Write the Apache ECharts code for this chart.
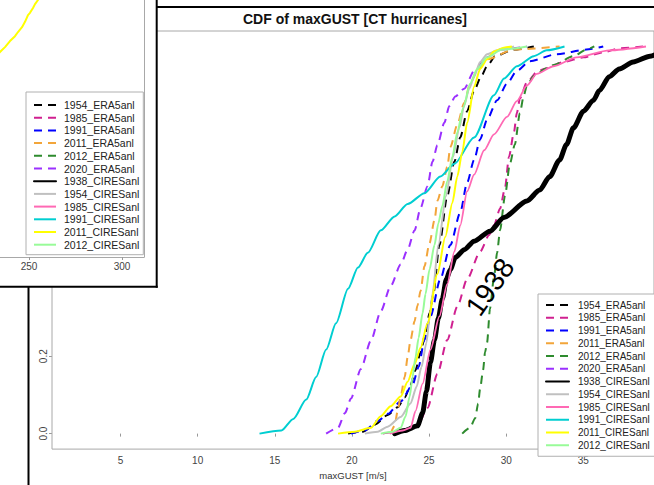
<!DOCTYPE html>
<html><head><meta charset="utf-8">
<script src="https://cdn.jsdelivr.net/npm/echarts@6/dist/echarts.min.js"></script>
<style>html,body{margin:0;padding:0;background:#fff}#c{width:654px;height:485px}</style>
</head><body><div id="c"></div>
<script>
const seriesNames = ['1954_ERA5anl','1985_ERA5anl','1991_ERA5anl','2011_ERA5anl','2012_ERA5anl','2020_ERA5anl','1938_CIRESanl','1954_CIRESanl','1985_CIRESanl','1991_CIRESanl','2011_CIRESanl','2012_CIRESanl'];
const xTicks = [5,10,15,20,25,30,35];
const yTicks = [0,0.2,0.4,0.6,0.8,1.0];
const insetXTicks = [250,300];

const era1954 = [[19.75,0],[20.71,0.005],[21.48,0.023],[22.32,0.048],[22.96,0.068],[23.42,0.093],[23.80,0.126],[24.12,0.164],[24.45,0.210],[24.77,0.260],[25.03,0.311],[25.28,0.361],[25.67,0.487],[26.18,0.614],[26.64,0.702],[27.02,0.765],[27.47,0.833],[27.92,0.886],[28.37,0.922],[28.76,0.949],[29.28,0.975],[30.50,0.992],[31.79,1.0]];
const era1985 = [[22.00,0],[22.96,0.005],[23.80,0.013],[24.25,0.020],[24.90,0.066],[25.54,0.154],[26.18,0.242],[26.83,0.328],[27.47,0.399],[28.31,0.470],[28.89,0.513],[29.21,0.538],[29.60,0.581],[29.92,0.634],[30.18,0.715],[30.50,0.778],[30.69,0.828],[30.89,0.866],[31.34,0.907],[31.98,0.934],[32.43,0.942],[33.72,0.960],[35.01,0.972],[36.29,0.985],[37.32,0.995],[38.87,1.0]];
const era1991 = [[19.94,0],[20.84,0.008],[21.68,0.033],[22.32,0.051],[23.16,0.083],[23.93,0.126],[24.32,0.172],[24.70,0.242],[25.09,0.303],[25.73,0.399],[26.38,0.487],[27.02,0.571],[27.47,0.649],[27.92,0.707],[28.31,0.760],[28.76,0.811],[29.41,0.861],[30.05,0.904],[30.69,0.937],[31.53,0.962],[33.27,0.980],[35.20,0.992],[36.29,1.0]];
const era2011 = [[22.51,0],[22.77,0.020],[22.96,0.058],[23.16,0.096],[23.42,0.146],[23.61,0.197],[23.80,0.242],[24.06,0.290],[24.25,0.331],[24.45,0.369],[24.70,0.432],[25.03,0.492],[25.35,0.551],[25.54,0.601],[25.86,0.639],[26.18,0.689],[26.38,0.740],[26.83,0.798],[27.28,0.854],[27.66,0.904],[28.12,0.937],[28.76,0.967],[30.50,0.992],[33.46,1.0]];
const era2012 = [[27.15,0],[27.66,0.015],[27.99,0.040],[28.18,0.078],[28.31,0.116],[28.50,0.164],[28.63,0.210],[28.76,0.235],[28.95,0.323],[29.21,0.404],[29.41,0.467],[29.60,0.525],[29.92,0.614],[30.24,0.697],[30.56,0.747],[30.89,0.828],[31.14,0.874],[31.34,0.899],[31.79,0.924],[32.62,0.944],[33.07,0.952],[34.36,0.975],[35.20,0.992],[35.71,1.0]];
const era2020 = [[18.33,0],[19.10,0.015],[19.55,0.053],[19.94,0.091],[20.58,0.167],[21.23,0.240],[21.87,0.316],[22.51,0.381],[23.16,0.437],[23.61,0.475],[24.06,0.525],[24.45,0.583],[24.90,0.639],[25.22,0.702],[25.54,0.745],[25.99,0.803],[26.31,0.846],[26.70,0.871],[27.28,0.891],[27.92,0.937],[28.76,0.972],[29.60,0.992],[31.34,1.0]];
const cires1938 = [[22.77,0],[23.42,0.008],[24.25,0.020],[24.58,0.053],[24.83,0.109],[25.09,0.184],[25.35,0.242],[25.60,0.298],[25.86,0.348],[26.12,0.399],[26.38,0.424],[26.70,0.455],[27.28,0.475],[27.92,0.497],[28.95,0.523],[29.85,0.558],[31.34,0.601],[32.17,0.629],[32.82,0.664],[33.46,0.707],[33.91,0.747],[34.36,0.790],[35.01,0.833],[35.65,0.861],[36.04,0.886],[36.68,0.922],[37.33,0.942],[38.23,0.960],[39.32,0.975],[39.84,0.982]];
const cires1954 = [[20.84,0],[21.68,0.005],[22.32,0.018],[23.16,0.043],[23.80,0.078],[24.19,0.121],[24.51,0.172],[24.83,0.235],[25.03,0.298],[25.22,0.361],[25.60,0.487],[26.10,0.614],[26.55,0.715],[26.96,0.790],[27.28,0.848],[27.60,0.891],[27.92,0.922],[28.31,0.960],[28.76,0.980],[29.41,0.990],[30.50,1.0]];
const cires1985 = [[22.45,0],[23.29,0.008],[23.80,0.015],[24.12,0.058],[24.58,0.129],[25.09,0.217],[25.67,0.303],[26.18,0.386],[26.64,0.470],[27.02,0.538],[27.47,0.626],[27.92,0.669],[28.57,0.732],[29.21,0.773],[30.05,0.818],[30.69,0.859],[31.34,0.899],[31.98,0.929],[33.07,0.949],[34.56,0.972],[36.68,0.990],[39.06,1.0]];
const cires1991 = [[14.01,0],[15.43,0.008],[16.20,0.038],[17.04,0.088],[17.68,0.146],[18.33,0.217],[18.97,0.285],[19.75,0.374],[20.39,0.429],[21.03,0.467],[21.87,0.525],[22.77,0.561],[23.61,0.593],[24.70,0.621],[25.73,0.664],[26.64,0.697],[27.92,0.765],[29.21,0.874],[29.86,0.917],[30.69,0.949],[31.79,0.975],[32.62,0.990],[33.78,1.0]];
const cires2011 = [[19.10,0],[20.20,0.005],[21.23,0.015],[21.87,0.045],[22.51,0.071],[23.16,0.096],[23.61,0.134],[24.06,0.179],[24.45,0.222],[24.90,0.285],[25.54,0.412],[26.05,0.508],[26.51,0.596],[26.83,0.664],[27.15,0.727],[27.47,0.803],[27.92,0.896],[28.31,0.942],[28.76,0.967],[29.21,0.987],[29.85,0.997],[30.37,1.0]];
const cires2012 = [[21.87,0],[22.64,0.005],[23.16,0.015],[23.48,0.045],[23.74,0.096],[23.93,0.146],[24.12,0.197],[24.32,0.247],[24.58,0.311],[24.77,0.361],[25.03,0.424],[25.35,0.487],[25.60,0.543],[25.86,0.588],[26.18,0.652],[26.51,0.715],[26.83,0.778],[27.21,0.841],[27.66,0.904],[28.12,0.942],[28.76,0.972],[29.73,0.992],[31.34,1.0]];
const insetCires2011 = [[231.72,0.491],[234.41,0.504],[237.10,0.517],[239.78,0.533],[242.47,0.546],[244.09,0.557],[246.24,0.570],[247.85,0.584],[249.46,0.602],[250.54,0.608],[252.15,0.621],[253.23,0.631],[254.84,0.642],[256.45,0.655]];

const seriesData = [era1954, era1985, era1991, era2011, era2012, era2020, cires1938, cires1954, cires1985, cires1991, cires2011, cires2012];

const FONT = '"Liberation Sans", Arial, Helvetica, sans-serif';
const DASH = [8, 6];
const styles = [
  {color:'#000000', width:2, type:DASH},
  {color:'#D02090', width:2, type:DASH},
  {color:'#0000FF', width:2, type:DASH},
  {color:'#F2A53A', width:2, type:DASH},
  {color:'#2E8B2E', width:2, type:DASH},
  {color:'#9B30FF', width:2, type:DASH},
  {color:'#000000', width:5, type:'solid', cap:'round'},
  {color:'#C0C0C0', width:2, type:'solid'},
  {color:'#FF69B4', width:1.8, type:'solid'},
  {color:'#00CED1', width:2, type:'solid'},
  {color:'#FFFF00', width:2, type:'solid'},
  {color:'#98FB98', width:2, type:'solid'}
];

const mainSeries = seriesNames.map((name, i) => ({
  name, type:'line', xAxisIndex:0, yAxisIndex:0, data: seriesData[i],
  symbol:'none', showSymbol:false, smooth:0.25, smoothMonotone:'x', z: 2,
  color: styles[i].color,
  lineStyle: Object.assign({join:'round'}, styles[i]),
  emphasis:{disabled:true}
}));

const insetSeries = {
  name:'2011_CIRESanl', type:'line', xAxisIndex:1, yAxisIndex:1, data: insetCires2011,
  symbol:'none', showSymbol:false, z: 20, color: styles[10].color,
  lineStyle: Object.assign({}, styles[10]), emphasis:{disabled:true}
};

const chart = echarts.init(document.getElementById('c'), null, {renderer:'svg', width:654, height:485});

const legendCommon = {
  orient:'vertical', data: seriesNames,
  itemWidth: 23, itemHeight: 12, itemGap: 0.75,
  itemStyle:{opacity:0, borderWidth:0},
  backgroundColor:'#ffffff', borderColor:'#b0b0b0', borderWidth:1, borderRadius:0,
  selectedMode:false
};

chart.setOption({
  animation:false,
  backgroundColor:'#ffffff',
  title:{text:'CDF of maxGUST [CT hurricanes]', left:355, top:12, textAlign:'center', padding:0,
    textStyle:{fontSize:14, fontWeight:'bold', color:'#111', fontFamily:FONT}},
  grid:[
    {left:52, top:31, width:606, height:428, show:true, borderColor:'#a8a8a8', borderWidth:1, backgroundColor:'transparent', containLabel:false, z:1},
    {left:0, top:0, width:144, height:257, show:false, containLabel:false, z:20}
  ],
  xAxis:[
    {type:'value', gridIndex:0, min:0.56, max:39.58, name:'maxGUST [m/s]', nameLocation:'middle', nameGap:13,
     nameTextStyle:{fontSize:9.5, color:'#333', fontFamily:FONT},
     axisLine:{show:false}, splitLine:{show:false},
     axisTick:{show:true, length:3, customValues:xTicks, lineStyle:{color:'#999'}},
     axisLabel:{show:true, customValues:xTicks, margin:6, fontSize:10, color:'#444', fontFamily:FONT}},
    {type:'value', gridIndex:1, min:234.41, max:311.83, z:20, position:'bottom',
     axisLine:{show:true, onZero:false, lineStyle:{color:'#a8a8a8', width:1}}, splitLine:{show:false},
     axisTick:{show:true, length:3, customValues:insetXTicks, lineStyle:{color:'#999'}},
     axisLabel:{show:true, customValues:insetXTicks, margin:4, fontSize:10, color:'#444', fontFamily:FONT}}
  ],
  yAxis:[
    {type:'value', gridIndex:0, min:-0.04, max:1.04,
     axisLine:{show:false}, splitLine:{show:false},
     axisTick:{show:true, length:3, customValues:yTicks, lineStyle:{color:'#999'}},
     axisLabel:{show:true, customValues:yTicks, rotate:90, margin:4, fontSize:10, color:'#444', fontFamily:FONT,
       formatter:(v)=>Number(v).toFixed(1)}},
    {type:'value', gridIndex:1, min:-0.04, max:0.642, z:20, position:'right',
     axisLine:{show:true, onZero:false, lineStyle:{color:'#a8a8a8', width:1}}, splitLine:{show:false}, axisTick:{show:false}, axisLabel:{show:false}}
  ],
  legend:[
    Object.assign({}, legendCommon, {left:538, top:294, padding:[5,40,5,7], z:6,
      textStyle:{fontSize:10, color:'#222', fontFamily:FONT, lineHeight:12, padding:[0,0,0,4]}}),
    Object.assign({}, legendCommon, {left:26, top:92, padding:[7,4,4,7], itemWidth:22, itemGap:0.7, z:25,
      textStyle:{fontSize:10.5, color:'#222', fontFamily:FONT, lineHeight:12, padding:[0,0,0,3]}})
  ],
  graphic:[
    {type:'text', x:490, y:287, rotation:55*Math.PI/180, z:5, silent:true,
     style:{text:'1938', font:'28px "Liberation Sans", Arial, sans-serif', fill:'#000', align:'center', verticalAlign:'middle'}},
    {type:'line', z:8, silent:true, shape:{x1:150, y1:7, x2:654, y2:7}, style:{stroke:'#000', lineWidth:2}},
    {type:'line', z:8, silent:true, shape:{x1:28.5, y1:280, x2:28.5, y2:485}, style:{stroke:'#000', lineWidth:2}},
    {type:'rect', z:10, silent:true, shape:{x:0, y:0, width:156.7, height:286.7}, style:{fill:'#ffffff'}},
    {type:'line', z:30, silent:true, shape:{x1:156.7, y1:0, x2:156.7, y2:287.7}, style:{stroke:'#000', lineWidth:2}},
    {type:'line', z:30, silent:true, shape:{x1:0, y1:286.7, x2:157.7, y2:286.7}, style:{stroke:'#000', lineWidth:2}}
  ],
  series: mainSeries.concat([insetSeries])
});
</script></body></html>
